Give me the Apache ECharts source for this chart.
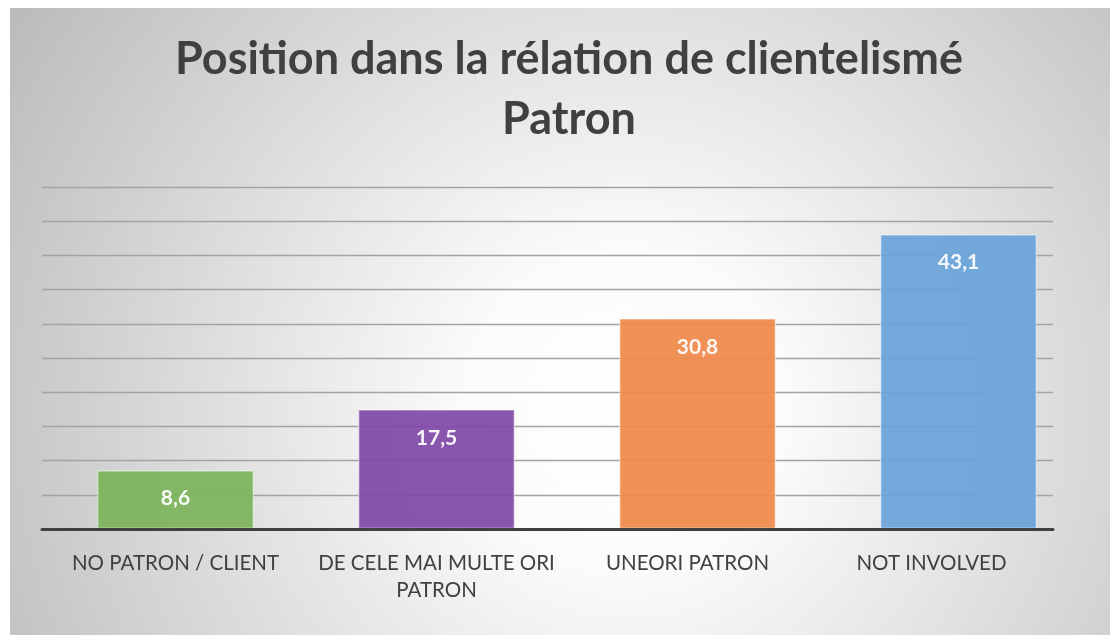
<!DOCTYPE html>
<html>
<head>
<meta charset="utf-8">
<script src="https://cdn.jsdelivr.net/npm/echarts@6/dist/echarts.min.js"></script>
<style>
html,body{margin:0;padding:0;background:#fff;}
#c{width:1110px;height:635px;}
</style>
</head>
<body>
<div id="c"></div>
<script>
const titleLines = ['Position dans la rélation de clientelismé', 'Patron'];
const categories = ['NO PATRON / CLIENT', 'DE CELE MAI MULTE ORI\nPATRON', 'UNEORI PATRON', 'NOT INVOLVED'];
const values = [8.6, 17.5, 30.8, 43.1];
const barColors = ['#7db45b', '#8049a8', '#ef8a4b', '#69a2d8'];
const yTicks = [0, 5, 10, 15, 20, 25, 30, 35, 40, 45, 50];
const labelShift = [0, 0, 20, 54];

const chart = echarts.init(document.getElementById('c'));
const yMin = yTicks[0], yMax = yTicks[yTicks.length - 1], yStep = yTicks[1] - yTicks[0];

chart.setOption({
  animation: false,
  graphic: [{
    type: 'rect', z: -100, silent: true,
    shape: {x: 10, y: 8, width: 1100, height: 627},
    style: {
      fill: new echarts.graphic.RadialGradient(0.56, 0.64, 1.15, [
        {offset: 0, color: '#ffffff'},
        {offset: 0.22, color: '#fbfbfb'},
        {offset: 1, color: '#bcbcbc'}
      ])
    }
  }],
  title: {
    text: titleLines.join('\n'),
    left: 564, textAlign: 'center', top: 24,
    textStyle: {fontFamily: 'Lato', fontWeight: 'bold', fontSize: 45, color: '#404040', lineHeight: 60}
  },
  grid: [
    {left: 45, width: 1044, top: 187, height: 342},
    {left: 42, width: 1011, top: 187, height: 342}
  ],
  xAxis: [
    {
      type: 'category', gridIndex: 0,
      data: categories.map((c, i) => ({value: c, textStyle: {padding: [0, labelShift[i], 0, 0]}})),
      axisLine: {show: false}, axisTick: {show: false},
      axisLabel: {margin: 21, fontFamily: 'Lato', fontSize: 20.5, color: '#404040', lineHeight: 27, interval: 0}
    },
    {
      type: 'value', gridIndex: 1, min: 0, max: 1, z: 5,
      axisLine: {show: true, lineStyle: {color: '#404040', width: 3}},
      axisTick: {show: false}, axisLabel: {show: false}, splitLine: {show: false}
    }
  ],
  yAxis: [
    {type: 'value', gridIndex: 0, min: yMin, max: yMax, interval: yStep, show: false, splitLine: {show: false}},
    {
      type: 'value', gridIndex: 1, min: yMin, max: yMax, interval: yStep,
      axisLine: {show: false}, axisTick: {show: false}, axisLabel: {show: false},
      splitLine: {show: true, lineStyle: {color: '#a3a3a3', width: 1.4}}
    }
  ],
  series: [{
    type: 'bar', xAxisIndex: 0, yAxisIndex: 0,
    barWidth: 157,
    data: values.map((v, i) => ({
      value: v,
      itemStyle: {color: barColors[i], opacity: 0.93, borderColor: 'rgba(255,255,255,0.45)', borderWidth: 1.5}
    })),
    label: {
      show: true, position: 'insideTop', distance: 18,
      formatter: p => String(p.value).replace('.', ','),
      fontFamily: 'Lato', fontWeight: 'bold', fontSize: 21, color: '#ffffff'
    }
  }]
});
</script>
</body>
</html>
